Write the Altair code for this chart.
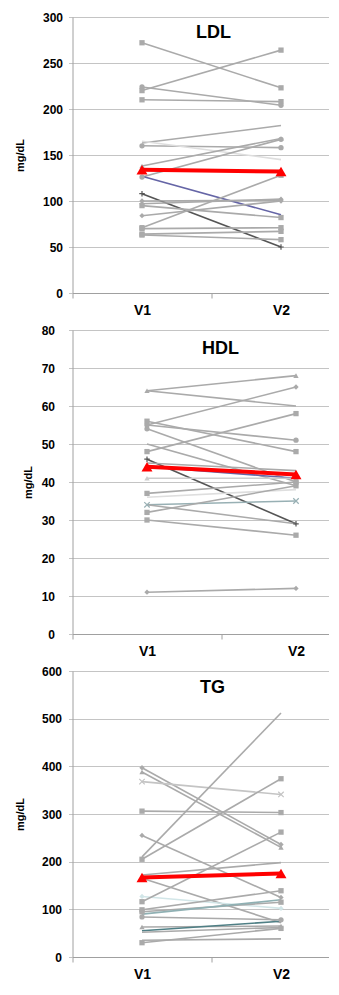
import altair as alt
import pandas as pd

VISITS = ["V1", "V2"]
GRAY = "#aaaaaa"
LIGHT = "#dedede"
DARK = "#555555"
BLUE = "#6565a6"
TEAL = "#98b0b4"
DTEAL = "#4f7f85"
CYAN = "#d2e6e8"

# ---- LDL ----
LDL_V1 = [272, 220, 224, 210, 163, 160, 165, 138, 126, 127, 108, 100, 97, 95, 84, 71, 70, 64, 63]
LDL_V2 = [223, 264, 204, 208, 182, 158, 145, 168, 167, 85, 50, 101, 102, 82, 100, 128, 71, 67, 58]
LDL_MEAN = [134, 132]
LDL_SHAPE = ["square", "square", "circle", "square", "none", "circle", "none", "triangle-up", "circle",
             "none", "plus", "diamond", "diamond", "square", "diamond", "square", "square", "square", "square"]
LDL_COLOR = [GRAY, GRAY, GRAY, GRAY, GRAY, GRAY, LIGHT, GRAY, GRAY, BLUE, DARK, GRAY, GRAY, GRAY, GRAY,
             GRAY, GRAY, GRAY, GRAY]

# ---- HDL ----
HDL_V1 = [64, 64, 55, 56, 55, 54, 50, 48, 46, 45, 44, 41, 37, 36, 34, 34, 32, 30, 11]
HDL_V2 = [68, 60, 65, 48, 51, 40, 39, 58, 29, 43, 41, 41, 40, 38, 35, 29, 39, 26, 12]
HDL_MEAN = [44, 42]
HDL_SHAPE = ["triangle-up", "none", "diamond", "square", "circle", "circle", "none", "square", "plus",
             "none", "none", "triangle-up", "square", "none", "x", "none", "square", "square", "diamond"]
HDL_COLOR = [GRAY, GRAY, GRAY, GRAY, GRAY, GRAY, GRAY, GRAY, DARK, GRAY, BLUE, "#cccccc", GRAY, LIGHT,
             TEAL, GRAY, GRAY, GRAY, GRAY]

# ---- TG ----
TG_V1 = [397, 388, 368, 306, 255, 210, 205, 172, 165, 127, 116, 99, 95, 90, 84, 63, 55, 52, 35, 30]
TG_V2 = [236, 230, 341, 303, 125, 512, 374, 198, 72, 102, 262, 139, 115, 120, 78, 65, 75, 62, 38, 60]
TG_MEAN = [167, 175]
TG_SHAPE = ["diamond", "triangle-up", "x", "square", "diamond", "none", "square", "none", "none", "diamond",
            "square", "square", "square", "none", "circle", "triangle-up", "none", "none", "none", "square"]
TG_COLOR = [GRAY, GRAY, "#c4c4c4", GRAY, GRAY, GRAY, GRAY, GRAY, GRAY, CYAN, GRAY, GRAY, GRAY, "#8fb0b3",
            GRAY, GRAY, DTEAL, GRAY, GRAY, GRAY]

FONT = "Liberation Sans"
PATHS = {"x": "M-1,-1L1,1M1,-1L-1,1", "plus": "M-1,0L1,0M0,-1L0,1"}


def panel(name, v1, v2, mean, shapes, colors, ymax, ystep, width, height,
          label_pad, title_x, name_x, name_y):
    rows = []
    for i in range(len(v1)):
        for visit, val in zip(VISITS, (v1[i], v2[i])):
            rows.append({"subj": i, "visit": visit, "value": val,
                         "shape": shapes[i], "color": colors[i]})
    df = pd.DataFrame(rows)
    filled = df[df["shape"].isin(["square", "circle", "diamond", "triangle-up"])]
    stroked = df[df["shape"].isin(["x", "plus"])].copy()
    stroked["shape"] = stroked["shape"].map(PATHS)
    mdf = pd.DataFrame({"visit": VISITS, "value": mean})

    x = alt.X("visit:N", bandPosition=0.5, title=None,
              scale=alt.Scale(type="band", domain=VISITS, paddingInner=0, paddingOuter=0),
              axis=alt.Axis(grid=False, tickBand="extent", tickSize=5, labelPadding=5,
                            labelFontSize=14, labelFontWeight="bold", labelFont=FONT,
                            labelColor="#000000", labelAngle=0,
                            domainColor="#a0a0a0", tickColor="#a0a0a0"))
    y = alt.Y("value:Q", title="mg/dL",
              scale=alt.Scale(domain=[0, ymax], nice=False, zero=True),
              axis=alt.Axis(values=list(range(0, ymax + 1, ystep)), grid=True,
                            gridColor="#c4c4c4", domainColor="#a0a0a0", tickColor="#c4c4c4",
                            tickSize=4, labelPadding=label_pad, labelFontSize=12,
                            labelFontWeight="bold", labelFont=FONT, labelColor="#000000",
                            titleFont=FONT, titleFontSize=11, titleFontWeight="bold",
                            titleColor="#000000", titleX=title_x, titleY=height / 2,
                            titleBaseline="middle"))

    lines = alt.Chart(df).mark_line(strokeWidth=1.6).encode(
        x=x, y=y, detail="subj:N", order="visit:N",
        color=alt.Color("color:N", scale=None))
    pts = alt.Chart(filled).mark_point(filled=True, size=28, opacity=1).encode(
        x=x, y=y, shape=alt.Shape("shape:N", scale=None),
        color=alt.Color("color:N", scale=None))
    pts2 = alt.Chart(stroked).mark_point(filled=False, size=30, strokeWidth=1.2, opacity=1).encode(
        x=x, y=y, shape=alt.Shape("shape:N", scale=None),
        color=alt.Color("color:N", scale=None))
    mline = alt.Chart(mdf).mark_line(color="#ff0000", strokeWidth=4).encode(x=x, y=y)
    mpts = alt.Chart(mdf).mark_point(shape="triangle-up", filled=True, size=120,
                                     color="#ff0000", opacity=1).encode(x=x, y=y)
    label = alt.Chart(pd.DataFrame({"t": [name]})).mark_text(
        font=FONT, fontSize=18, fontWeight="bold", color="#000000", baseline="middle",
        align="center").encode(text="t:N", x=alt.value(name_x), y=alt.value(name_y))
    return alt.layer(lines, pts, pts2, mline, mpts, label).properties(width=width, height=height)


p1 = panel("LDL", LDL_V1, LDL_V2, LDL_MEAN, LDL_SHAPE, LDL_COLOR, 300, 50, 278, 276,
           6, -52, 141, 16)
p2 = panel("HDL", HDL_V1, HDL_V2, HDL_MEAN, HDL_SHAPE, HDL_COLOR, 80, 10, 298, 304,
           14, -44, 148, 18.5)
p3 = panel("TG", TG_V1, TG_V2, TG_MEAN, TG_SHAPE, TG_COLOR, 600, 100, 278, 286,
           7, -52, 140, 17)

chart = alt.concat(p1, p2, p3, columns=1, spacing=7, align="none").properties(
    padding={"left": 6.5, "top": 3, "right": -43, "bottom": 0}
).configure_view(stroke=None)

chart.save("out.html", embed_options={"renderer": "svg", "actions": False})
